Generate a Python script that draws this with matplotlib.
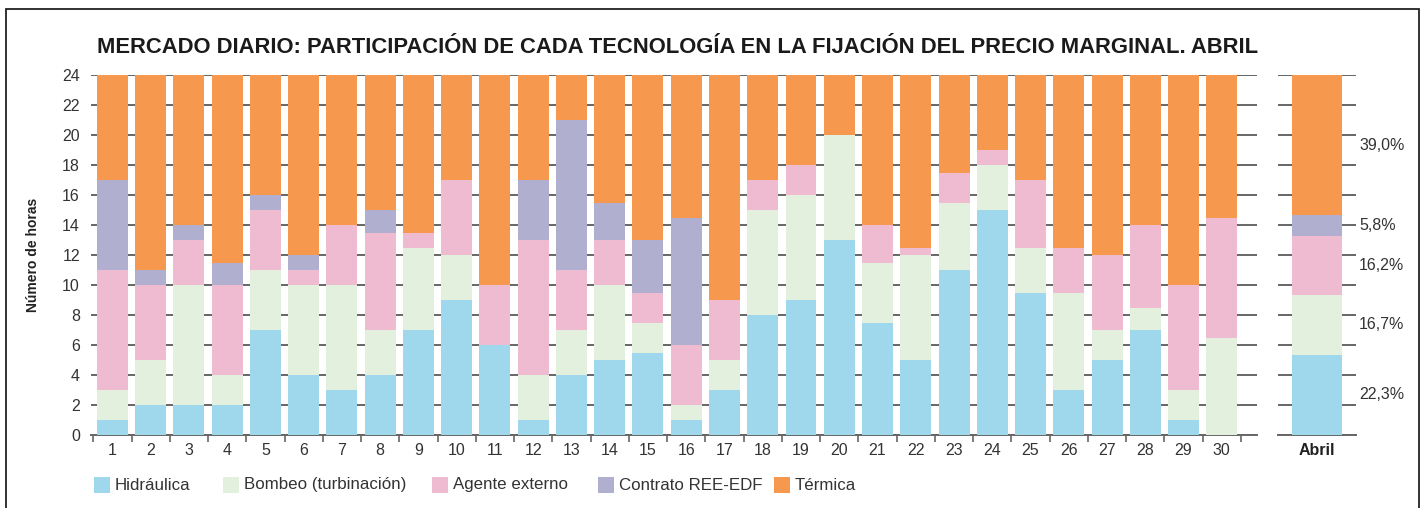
import numpy as np
import matplotlib.pyplot as plt
from matplotlib.patches import Rectangle

plt.rcParams['font.family'] = ['Liberation Sans', 'DejaVu Sans']

# datos: horas por día en que cada tecnología fija el precio marginal
dias = list(range(1, 31))
hidraulica = [1, 2, 2, 2, 7, 4, 3, 4, 7, 9, 6, 1, 4, 5, 5.5, 1, 3, 8, 9, 13,
              7.5, 5, 11, 15, 9.5, 3, 5, 7, 1, 0]
bombeo = [2, 3, 8, 2, 4, 6, 7, 3, 5.5, 3, 0, 3, 3, 5, 2, 1, 2, 7, 7, 7,
          4, 7, 4.5, 3, 3, 6.5, 2, 1.5, 2, 6.5]
agente = [8, 5, 3, 6, 4, 1, 4, 6.5, 1, 5, 4, 9, 4, 3, 2, 4, 4, 2, 2, 0,
          2.5, 0.5, 2, 1, 4.5, 3, 5, 5.5, 7, 8]
contrato = [6, 1, 1, 1.5, 1, 1, 0, 1.5, 0, 0, 0, 4, 10, 2.5, 3.5, 8.5, 0, 0, 0, 0,
            0, 0, 0, 0, 0, 0, 0, 0, 0, 0]
termica = [7, 13, 10, 12.5, 8, 12, 10, 9, 10.5, 7, 14, 7, 3, 8.5, 11, 9.5, 15, 7, 6, 4,
           10, 11.5, 6.5, 5, 7, 11.5, 12, 10, 14, 9.5]

nombres = ["Hidráulica", "Bombeo (turbinación)", "Agente externo", "Contrato REE-EDF", "Térmica"]
colores = ["#9fd7ec", "#e4f0de", "#eebbd0", "#b0afd0", "#f6994e"]

# resumen mensual (%)
abril_pct = [22.3, 16.7, 16.2, 5.8, 39.0]
abril_lbl = ["22,3%", "16,7%", "16,2%", "5,8%", "39,0%"]

W, H = 1423, 508
fig = plt.figure(figsize=(W / 100, H / 100), dpi=100)

def px_axes(x0, y0, x1, y1):
    return fig.add_axes([x0 / W, 1 - y1 / H, (x1 - x0) / W, (y1 - y0) / H])

grid_c = "#666666"
txt_c = "#333333"

ax = px_axes(91, 75, 1257, 435)
series = [hidraulica, bombeo, agente, contrato, termica]
bottom = np.zeros(len(dias))
for vals, col, nom in zip(series, colores, nombres):
    ax.bar(dias, vals, width=0.81, bottom=bottom, color=col, label=nom, zorder=3)
    bottom += np.array(vals)

ax.set_xlim(0.44, 30.92)
ax.set_ylim(0, 24)
ax.set_yticks(range(0, 25, 2))
ax.yaxis.grid(True, color=grid_c, linewidth=1.4, zorder=0)
ax.set_axisbelow(True)
for s in ["top", "right", "left"]:
    ax.spines[s].set_visible(False)
ax.spines["bottom"].set_color(grid_c)
ax.spines["bottom"].set_linewidth(1.4)
ax.tick_params(axis="y", length=0, labelsize=11.5, labelcolor=txt_c, pad=8)
ax.set_xticks(dias)
ax.set_xticklabels([str(d) for d in dias])
ax.tick_params(axis="x", length=0, labelsize=11.5, labelcolor=txt_c, pad=6)
ax.set_xticks(np.arange(0.5, 31, 1), minor=True)
ax.tick_params(axis="x", which="minor", length=5, color=grid_c, width=1.2)
ax.set_ylabel("Número de horas", fontsize=10, fontweight="bold", color="#222222", labelpad=16)

# barra del mes
ax2 = px_axes(1278, 75, 1356, 435)
horas = np.array(abril_pct) * 24 / 100
b = 0
for h, col, lbl in zip(horas, colores, abril_lbl):
    ax2.bar([0], [h], width=0.63, bottom=b, color=col, zorder=3)
    ax2.text(1.04, (b + h / 2) / 24, lbl, transform=ax2.transAxes, fontsize=11.5,
             color=txt_c, va="center", ha="left")
    b += h
ax2.set_xlim(-0.5, 0.5)
ax2.set_ylim(0, 24)
ax2.set_yticks(range(0, 25, 2))
ax2.yaxis.grid(True, color=grid_c, linewidth=1.4, zorder=0)
ax2.set_axisbelow(True)
for s in ["top", "right", "left"]:
    ax2.spines[s].set_visible(False)
ax2.spines["bottom"].set_color(grid_c)
ax2.spines["bottom"].set_linewidth(1.4)
ax2.tick_params(axis="y", length=0, labelleft=False)
ax2.set_xticks([0])
ax2.set_xticklabels(["Abril"], fontweight="bold", fontsize=11.5, color="#222222")
ax2.tick_params(axis="x", length=0, pad=6)

fig.text(678 / W, 1 - 53 / H,
         "MERCADO DIARIO: PARTICIPACIÓN DE CADA TECNOLOGÍA EN LA FIJACIÓN DEL PRECIO MARGINAL. ABRIL",
         ha="center", va="baseline", fontsize=15.8, fontweight="bold", color="#1a1a1a")

# leyenda colocada a mano
leg_x = [94, 223, 432, 598, 774]
for x0, col, nom in zip(leg_x, colores, nombres):
    fig.patches.append(Rectangle((x0 / W, 1 - 493 / H), 16 / W, 16 / H,
                                 transform=fig.transFigure, facecolor=col,
                                 edgecolor="none"))
    fig.text((x0 + 21) / W, 1 - 485 / H, nom, ha="left", va="center",
             fontsize=12.2, color=txt_c)

fig.patches.append(Rectangle((6 / W, -0.02), (1419 - 6) / W, 1.02 - 9.5 / H,
                             transform=fig.transFigure, fill=False,
                             edgecolor="#222222", linewidth=1.3))

fig.savefig("out.png", dpi=100)
